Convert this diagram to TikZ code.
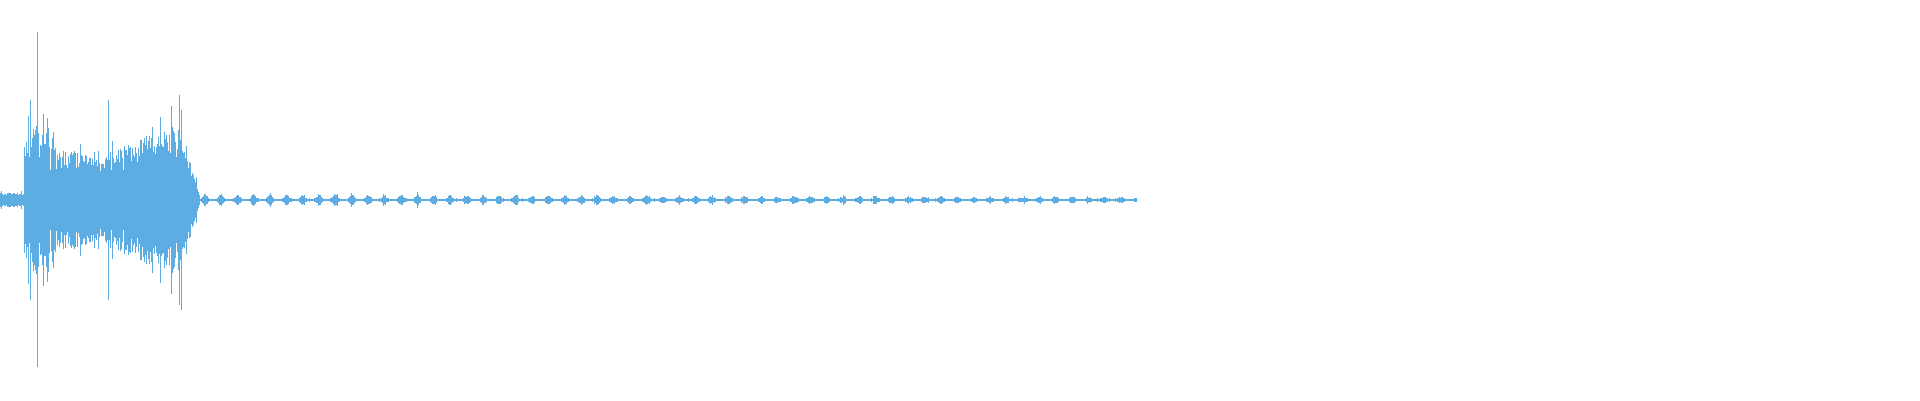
\documentclass[tikz,border=0pt]{standalone}
\definecolor{wave}{RGB}{93,173,226}
\begin{document}
\begin{tikzpicture}[x=1pt,y=1pt,wl/.style={draw=wave,line width=0.6pt}]
\useasboundingbox (0,0) rectangle (1920,400);
\fill[white] (0,0) rectangle (1920,400);
\pgfmathsetseed{7}
\draw[wl] (0,200) -- (1136,200);
\foreach \i in {0,...,2272}{
  \pgfmathsetmacro\x{\i*0.5}
  \pgfmathsetmacro\e{\x<24 ? 7 : (\x<32 ? 70 : (\x<50 ? 78 : (\x<110 ? 50 : (\x<180 ? 50+(\x-110)*0.38 : (\x<200 ? 76-(\x-180)*3.6 : 1.2+4.5*(abs(sin(\x*11))^6)*(1.2-\x/1600)))))))}
  \pgfmathsetmacro\h{\e*(0.5+0.5*rnd)+(rnd>0.96 ? \e*0.45 : 0)}
  \draw[wl] (\x,200-\h) -- (\x,200+\h);
}
\draw[wl] (37,33) -- (37,368);
\draw[wl] (47,118) -- (47,282);
\draw[wl] (30,100) -- (30,300);
\draw[wl] (108,100) -- (108,300);
\draw[wl] (181,90) -- (181,290);
\end{tikzpicture}
\end{document}
